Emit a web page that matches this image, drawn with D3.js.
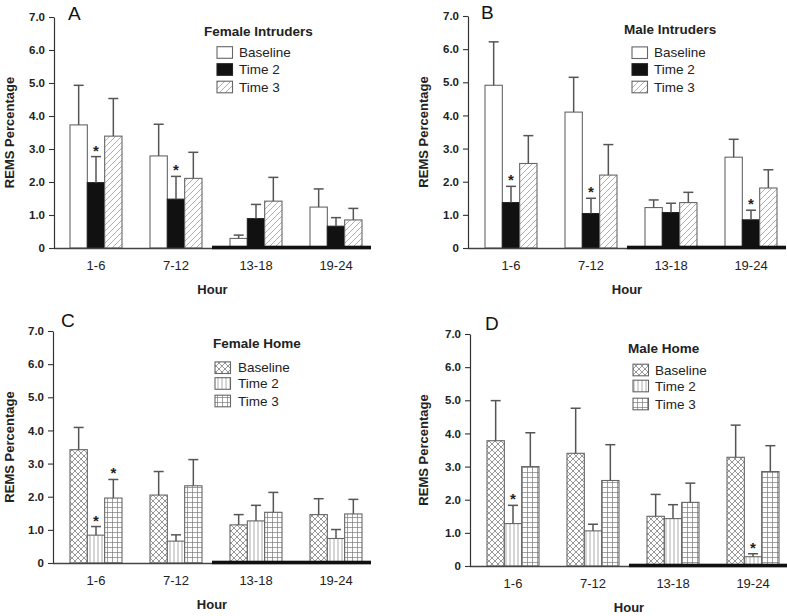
<!DOCTYPE html>
<html>
<head>
<meta charset="utf-8">
<script src="https://cdn.jsdelivr.net/npm/d3@7"></script>
<style>
  html, body { margin: 0; padding: 0; background: #fff; }
  svg { display: block; }
  text { font-family: "Liberation Sans", Arial, sans-serif; }
</style>
</head>
<body>
<svg id="chart" width="787" height="616"></svg>
<script>
// ---------- data ----------
const hours = ["1-6", "7-12", "13-18", "19-24"];
const seriesNames = ["Baseline", "Time 2", "Time 3"];
const yTicks = [0, 1, 2, 3, 4, 5, 6, 7];

// Panel A: Female Intruders (mean, SE)
const fiBaseline = [3.73, 2.79, 0.29, 1.24];
const fiBaselineSE = [1.20, 0.96, 0.10, 0.55];
const fiTime2 = [1.98, 1.48, 0.89, 0.66];
const fiTime2SE = [0.79, 0.69, 0.43, 0.26];
const fiTime3 = [3.39, 2.11, 1.42, 0.85];
const fiTime3SE = [1.14, 0.79, 0.72, 0.35];
const fiStars = [[0, 1], [1, 1]];

// Panel B: Male Intruders
const miBaseline = [4.91, 4.10, 1.22, 2.74];
const miBaselineSE = [1.31, 1.05, 0.23, 0.54];
const miTime2 = [1.37, 1.04, 1.07, 0.85];
const miTime2SE = [0.49, 0.46, 0.28, 0.29];
const miTime3 = [2.55, 2.20, 1.37, 1.81];
const miTime3SE = [0.84, 0.92, 0.31, 0.55];
const miStars = [[0, 1], [1, 1], [3, 1]];

// Panel C: Female Home
const fhBaseline = [3.42, 2.05, 1.15, 1.46];
const fhBaselineSE = [0.67, 0.71, 0.31, 0.48];
const fhTime2 = [0.84, 0.66, 1.27, 0.74];
const fhTime2SE = [0.26, 0.19, 0.47, 0.27];
const fhTime3 = [1.96, 2.33, 1.53, 1.48];
const fhTime3SE = [0.56, 0.79, 0.60, 0.44];
const fhStars = [[0, 1], [0, 2]];

// Panel D: Male Home
const mhBaseline = [3.78, 3.40, 1.50, 3.28];
const mhBaselineSE = [1.21, 1.36, 0.66, 0.97];
const mhTime2 = [1.28, 1.06, 1.43, 0.28];
const mhTime2SE = [0.55, 0.20, 0.42, 0.09];
const mhTime3 = [3.00, 2.58, 1.92, 2.85];
const mhTime3SE = [1.02, 1.08, 0.58, 0.78];
const mhStars = [[0, 1], [3, 1]];

// ---------- drawing ----------
const svg = d3.select("#chart");
const defs = svg.append("defs");

function addPattern(id, w, h, paths, stroke, sw) {
  const p = defs.append("pattern").attr("id", id)
    .attr("patternUnits", "userSpaceOnUse").attr("width", w).attr("height", h);
  p.append("rect").attr("width", w).attr("height", h).attr("fill", "#fff");
  p.append("path").attr("d", paths).attr("stroke", stroke)
    .attr("stroke-width", sw).attr("fill", "none");
}
addPattern("diag", 6, 6, "M-1,1 L1,-1 M0,6 L6,0 M5,7 L7,5", "#9a9a9a", 0.8);
addPattern("cross", 6, 6, "M0,0 L6,6 M6,0 L0,6", "#6a6a6a", 0.7);
addPattern("vert", 4, 4, "M2,0 L2,4", "#8a8a8a", 0.7);
addPattern("grid", 5, 5, "M2.5,0 L2.5,5 M0,2.5 L5,2.5", "#7a7a7a", 0.7);

const panels = [
  { letter: "A", title: "Female Intruders", lx: 68, ly: 20,
    means: [fiBaseline, fiTime2, fiTime3], ses: [fiBaselineSE, fiTime2SE, fiTime3SE], stars: fiStars,
    fills: ["#fff", "#111", "url(#diag)"],
    axisX: 54, y0: 248, y7: 17, bandStart: 70, ytitleX: 9,
    legX: 204, legTitleY: 31.7, boxX: 217, textX: 239, rows: [52.5, 69.5, 87] },
  { letter: "B", title: "Male Intruders", lx: 481, ly: 18.5,
    means: [miBaseline, miTime2, miTime3], ses: [miBaselineSE, miTime2SE, miTime3SE], stars: miStars,
    fills: ["#fff", "#111", "url(#diag)"],
    axisX: 468, y0: 248, y7: 16, bandStart: 485, ytitleX: 423,
    legX: 624, legTitleY: 29.3, boxX: 632, textX: 654, rows: [52.7, 69.5, 87] },
  { letter: "C", title: "Female Home", lx: 61, ly: 327,
    means: [fhBaseline, fhTime2, fhTime3], ses: [fhBaselineSE, fhTime2SE, fhTime3SE], stars: fhStars,
    fills: ["url(#cross)", "url(#vert)", "url(#grid)"],
    axisX: 53, y0: 563, y7: 331, bandStart: 70, ytitleX: 9,
    legX: 213, legTitleY: 343.3, boxX: 215, textX: 238, rows: [367.7, 383.5, 401] },
  { letter: "D", title: "Male Home", lx: 485, ly: 330,
    means: [mhBaseline, mhTime2, mhTime3], ses: [mhBaselineSE, mhTime2SE, mhTime3SE], stars: mhStars,
    fills: ["url(#cross)", "url(#vert)", "url(#grid)"],
    axisX: 470, y0: 566, y7: 334, bandStart: 487, ytitleX: 423,
    legX: 628, legTitleY: 348.3, boxX: 633, textX: 655, rows: [370, 386, 404] }
];

panels.forEach(P => {
  const g = svg.append("g");
  const y = d3.scaleLinear().domain([0, 7]).range([P.y0, P.y7]);
  const x0 = d3.scaleBand().domain(hours)
    .range([P.bandStart - 14, P.bandStart - 14 + 320])
    .paddingInner(0.35).paddingOuter(0.175);
  const x1 = d3.scaleBand().domain(seriesNames).range([0, x0.bandwidth()]);
  const axisEnd = x0(hours[3]) + x0.bandwidth() + 9;
  const darkStart = x0(hours[2]) - 18;

  // bars
  hours.forEach((h, gi) => {
    seriesNames.forEach((s, si) => {
      const v = P.means[si][gi];
      const bx = x0(h) + x1(s);
      g.append("rect")
        .attr("x", bx).attr("y", y(v))
        .attr("width", x1.bandwidth()).attr("height", y(0) - y(v))
        .attr("fill", P.fills[si])
        .attr("stroke", P.fills[si] === "#111" ? "#222" : "#666")
        .attr("stroke-width", 1.1);
      // error bar (upper only)
      const cx = bx + x1.bandwidth() / 2;
      const top = y(v + P.ses[si][gi]);
      g.append("line").attr("x1", cx).attr("x2", cx)
        .attr("y1", y(v)).attr("y2", top)
        .attr("stroke", "#555").attr("stroke-width", 1.5);
      g.append("line").attr("x1", cx - 5).attr("x2", cx + 5)
        .attr("y1", top).attr("y2", top)
        .attr("stroke", "#555").attr("stroke-width", 1.5);
    });
  });

  // asterisks
  P.stars.forEach(([gi, si]) => {
    const s = seriesNames[si];
    const cx = x0(hours[gi]) + x1(s) + x1.bandwidth() / 2;
    const top = y(P.means[si][gi] + P.ses[si][gi]);
    g.append("text").attr("x", cx).attr("y", top - 1)
      .attr("text-anchor", "middle").attr("font-size", 15).attr("font-weight", "bold")
      .attr("fill", "#222").text("*");
  });

  // x axis line
  g.append("line").attr("x1", P.axisX).attr("x2", axisEnd)
    .attr("y1", P.y0 + 0.5).attr("y2", P.y0 + 0.5)
    .attr("stroke", "#444").attr("stroke-width", 1.3);
  // dark period bar
  g.append("rect").attr("x", darkStart).attr("y", P.y0 - 2.3)
    .attr("width", axisEnd - darkStart).attr("height", 3.5).attr("fill", "#111");

  // y axis
  const yAxis = d3.axisLeft(y).tickValues(yTicks).tickSize(5).tickSizeOuter(0).tickPadding(4)
    .tickFormat(d => d === 0 ? "0" : d3.format(".1f")(d));
  const ga = g.append("g").attr("transform", `translate(${P.axisX},0)`).call(yAxis);
  ga.select(".domain").attr("stroke", "#333").attr("stroke-width", 1.2);
  ga.selectAll(".tick line").attr("stroke", "#333").attr("stroke-width", 1.1);
  ga.selectAll(".tick text").attr("font-size", 11.5).attr("font-weight", "bold")
    .attr("fill", "#222").style("font-family", '"Liberation Sans", Arial, sans-serif');

  // x tick labels
  g.selectAll(".xl").data(hours).enter().append("text")
    .attr("x", d => x0(d) + x0.bandwidth() / 2)
    .attr("y", P.y0 + 22)
    .attr("text-anchor", "middle").attr("font-size", 13).attr("fill", "#222")
    .text(d => d);

  // axis titles
  g.append("text").attr("x", (P.axisX + axisEnd) / 2).attr("y", P.y0 + 46)
    .attr("text-anchor", "middle").attr("font-size", 13).attr("font-weight", "bold")
    .attr("fill", "#222").text("Hour");
  const ymid = (P.y0 + P.y7) / 2;
  g.append("text")
    .attr("transform", `translate(${P.ytitleX + 4.5},${ymid}) rotate(-90)`)
    .attr("text-anchor", "middle").attr("font-size", 13).attr("font-weight", "bold")
    .attr("fill", "#222").text("REMS Percentage");

  // panel letter
  g.append("text").attr("x", P.lx).attr("y", P.ly)
    .attr("font-size", 19).attr("fill", "#111").text(P.letter);

  // legend
  g.append("text").attr("x", P.legX).attr("y", P.legTitleY + 4.7)
    .attr("font-size", 13.5).attr("font-weight", "bold").attr("fill", "#222").text(P.title);
  seriesNames.forEach((s, si) => {
    const cy = P.rows[si];
    g.append("rect").attr("x", P.boxX).attr("y", cy - 5.8).attr("width", 15.5).attr("height", 11.6)
      .attr("fill", P.fills[si]).attr("stroke", P.fills[si] === "#111" ? "#222" : "#666")
      .attr("stroke-width", 1.1);
    g.append("text").attr("x", P.textX).attr("y", cy + 4.6)
      .attr("font-size", 13.5).attr("fill", "#222").text(s);
  });
});
</script>
</body>
</html>
